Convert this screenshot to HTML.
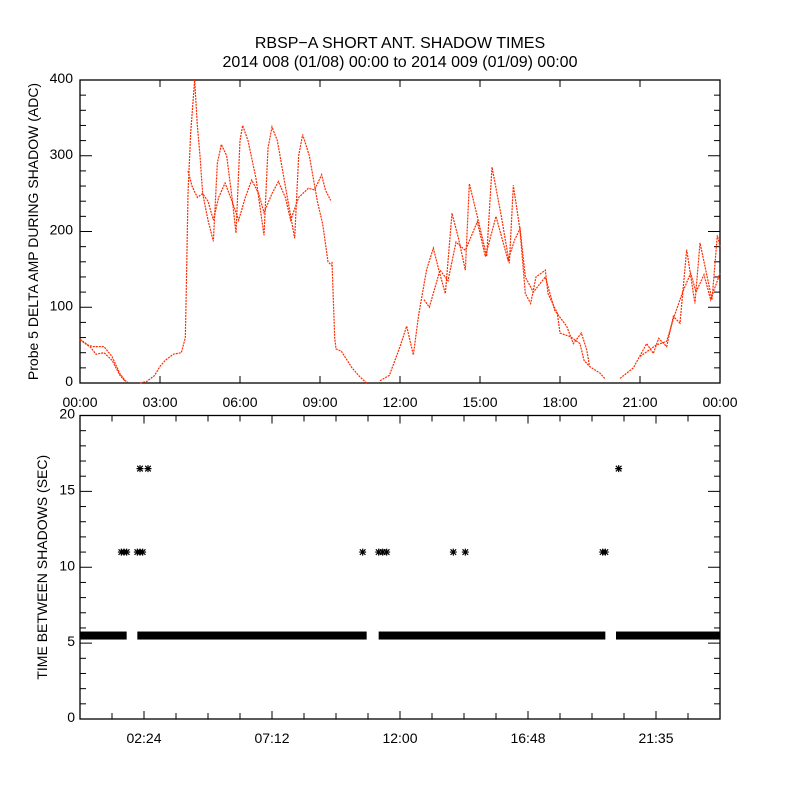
<!DOCTYPE html>
<html><head><meta charset="utf-8"><style>
html,body{margin:0;padding:0;background:#fff;}
svg{display:block;font-family:"Liberation Sans",sans-serif;}
</style></head><body>
<svg id="chart" width="800" height="800" viewBox="0 0 800 800" xmlns="http://www.w3.org/2000/svg">
<rect width="800" height="800" fill="#fff"/>
<text x="400" y="48" text-anchor="middle" font-size="16">RBSP−A SHORT ANT. SHADOW TIMES</text>
<text x="400" y="67" text-anchor="middle" font-size="16">2014 008 (01/08) 00:00 to 2014 009 (01/09) 00:00</text>
<g id="topPanel"></g><g id="botPanel"></g>
</svg>
<script>
// ---- top panel data: [hour, ADC] ----
const topCurveA=[[0,58],[0.3,50],[0.5,48],[0.9,48],[1.2,35],[1.5,12],[1.7,3],[1.8,1]];
const topCurveB=[[0,57],[0.4,47],[0.6,38],[0.9,40],[1.2,30],[1.5,10],[1.7,2]];
const topCurveC=[[2.25,0],[2.5,2],[2.8,10],[3.0,22],[3.2,30],[3.5,38],[3.8,40],[3.95,60],[4.0,150],[4.05,250],[4.15,330],[4.3,400],[4.4,340],[4.5,300],[4.6,250],[4.8,215],[5.0,187],[5.15,290],[5.3,315],[5.5,300],[5.7,245],[5.85,198],[6.0,320],[6.1,340],[6.3,320],[6.6,270],[6.9,195],[7.05,310],[7.2,338],[7.4,320],[7.7,260],[8.05,191],[8.2,300],[8.35,328],[8.6,300],[8.9,240],[9.1,210],[9.3,160],[9.45,155]];
const topCurveD=[[4.05,280],[4.2,260],[4.4,245],[4.6,250],[4.8,240],[5.0,215],[5.2,245],[5.44,264],[5.7,240],[5.95,215],[6.2,245],[6.44,268],[6.7,250],[6.9,225],[7.2,250],[7.44,266],[7.7,245],[7.9,215],[8.2,245],[8.56,257],[8.8,255],[9.06,275],[9.2,255],[9.4,241]];
const topCurveE=[[9.45,160],[9.55,60],[9.6,45],[9.8,42],[10.2,20],[10.5,8],[10.75,0]];
const topCurveF=[[11.25,3],[11.6,10],[12.0,48],[12.25,75],[12.5,37],[12.7,90],[13.0,150],[13.25,178],[13.45,150],[13.7,118],[13.95,224],[14.2,190],[14.45,149],[14.6,263],[14.9,220],[15.25,167],[15.45,285],[15.8,220],[16.1,158],[16.25,261],[16.5,202],[16.7,118],[16.9,105],[17.1,140],[17.45,149],[17.55,118],[17.9,92],[18.0,66],[18.4,61],[18.75,52],[18.9,30],[19.1,22],[19.5,13],[19.7,5]];
const topCurveG=[[12.9,110],[13.1,100],[13.5,149],[13.8,135],[14.1,186],[14.45,175],[14.9,213],[15.2,167],[15.6,220],[16.05,162],[16.3,189],[16.5,204],[16.7,140],[17.0,120],[17.45,140],[17.8,96],[18.25,75],[18.5,52],[18.8,66],[19.0,44],[19.1,24]];
const topCurveH=[[20.25,6],[20.75,20],[21.25,52],[21.5,39],[21.7,59],[22.0,48],[22.25,88],[22.5,79],[22.75,176],[23.06,105],[23.25,185],[23.7,110],[23.9,195],[24,180]];
const topCurveI=[[21.0,35],[21.6,50],[22.0,55],[22.3,90],[22.6,120],[22.9,145],[23.1,120],[23.4,143],[23.65,110],[24,145]];
const topCurves=[topCurveA,topCurveB,topCurveC,topCurveD,topCurveE,topCurveF,topCurveG,topCurveH,topCurveI];
const topYTicks=[0,100,200,300,400];
const topXLabels=["00:00","03:00","06:00","09:00","12:00","15:00","18:00","21:00","00:00"];
// ---- bottom panel data ----
const bandValue=5.5;
const bandSegments=[[0,1.75],[2.15,10.75],[11.2,19.7],[20.1,24]];
const starHours=[1.55,1.65,1.75,2.15,2.25,2.35,10.6,11.2,11.35,11.5,14.0,14.45,19.6,19.7,2.25,2.55,20.2];
const starValues=[11,11,11,11,11,11,11,11,11,11,11,11,11,11,16.5,16.5,16.5];
const botYTicks=[0,5,10,15,20];
const botXLabels=["02:24","07:12","12:00","16:48","21:35"];
const botXLabelHours=[2.4,7.2,12,16.8,21.6];

const NS="http://www.w3.org/2000/svg";
function mk(tag,attrs,parent){const e=document.createElementNS(NS,tag);for(const k in attrs)e.setAttribute(k,attrs[k]);parent.appendChild(e);return e;}
const L=80,R=720;
const xT=h=>L+h/24*(R-L);
const T1=80,B1=383,yT=v=>B1-v/400*(B1-T1);
const T2=415.5,B2=719,yB=v=>B2-v/20*(B2-T2);
const topG=document.getElementById('topPanel'),botG=document.getElementById('botPanel');

let fr=mk('rect',{x:L,y:T1,width:R-L,height:B1-T1,fill:'none',stroke:'#000','stroke-width':1.3},topG);


for(let v=0;v<=400;v+=20){const maj=v%100===0,len=maj?12:6;
 mk('line',{x1:L,x2:L+len,y1:yT(v),y2:yT(v),stroke:'#000'},topG);
 mk('line',{x1:R,x2:R-len,y1:yT(v),y2:yT(v),stroke:'#000'},topG);}
topYTicks.forEach(v=>{const t=mk('text',{x:73,y:yT(v)+3,'text-anchor':'end','font-size':14},topG);t.textContent=v;
 
 });
topXLabels.forEach((s,i)=>{const h=i*3;
 mk('line',{x1:xT(h),x2:xT(h),y1:B1,y2:B1-7,stroke:'#000'},topG);
 mk('line',{x1:xT(h),x2:xT(h),y1:T1,y2:T1+7,stroke:'#000'},topG);
 const t=mk('text',{x:xT(h),y:407,'text-anchor':'middle','font-size':14},topG);t.textContent=s;
 
 });
let yt=mk('text',{x:0,y:0,'text-anchor':'middle','font-size':14,transform:`translate(38,${(T1+B1)/2}) rotate(-90)`},topG);
yt.textContent="Probe 5 DELTA AMP DURING SHADOW (ADC)";


topCurves.forEach(c=>{const p=mk('polyline',{points:c.map(d=>xT(d[0])+','+yT(d[1])).join(' '),fill:'none',stroke:'#ff2a00','stroke-width':1.2,'stroke-dasharray':'2 1'},topG);
 
 });

fr=mk('rect',{x:L,y:T2,width:R-L,height:B2-T2,fill:'none',stroke:'#000','stroke-width':1.3},botG);


for(let v=0;v<=20;v++){const maj=v%5===0,len=maj?12:6;
 mk('line',{x1:L,x2:L+len,y1:yB(v),y2:yB(v),stroke:'#000'},botG);
 mk('line',{x1:R,x2:R-len,y1:yB(v),y2:yB(v),stroke:'#000'},botG);}
botYTicks.forEach(v=>{const t=mk('text',{x:75,y:yB(v)+3,'text-anchor':'end','font-size':14},botG);t.textContent=v;
 
 });
for(let i=0;i<=20;i++){const h=i*1.2,len=(i%4===2)?8:6;
 mk('line',{x1:xT(h),x2:xT(h),y1:B2,y2:B2-len,stroke:'#000'},botG);
 mk('line',{x1:xT(h),x2:xT(h),y1:T2,y2:T2+len,stroke:'#000'},botG);}
botXLabels.forEach((s,i)=>{const t=mk('text',{x:xT(botXLabelHours[i]),y:743,'text-anchor':'middle','font-size':14},botG);t.textContent=s;
 
 });
yt=mk('text',{x:0,y:0,'text-anchor':'middle','font-size':14,transform:`translate(47,${(T2+B2)/2}) rotate(-90)`},botG);
yt.textContent="TIME BETWEEN SHADOWS (SEC)";


bandSegments.forEach(s=>{const r=mk('rect',{x:xT(s[0]),y:yB(bandValue)-4,width:xT(s[1])-xT(s[0]),height:8,fill:'#000'},botG);
 
 });
starHours.forEach((h,i)=>{const cx=xT(h),cy=yB(starValues[i]),s=3.5;
 const g=mk('path',{d:`M${cx-s} ${cy}H${cx+s}M${cx} ${cy-s}V${cy+s}M${cx-s*.8} ${cy-s*.8}L${cx+s*.8} ${cy+s*.8}M${cx-s*.8} ${cy+s*.8}L${cx+s*.8} ${cy-s*.8}`,stroke:'#000','stroke-width':1.2},botG);
 
 });
</script>
</body></html>
